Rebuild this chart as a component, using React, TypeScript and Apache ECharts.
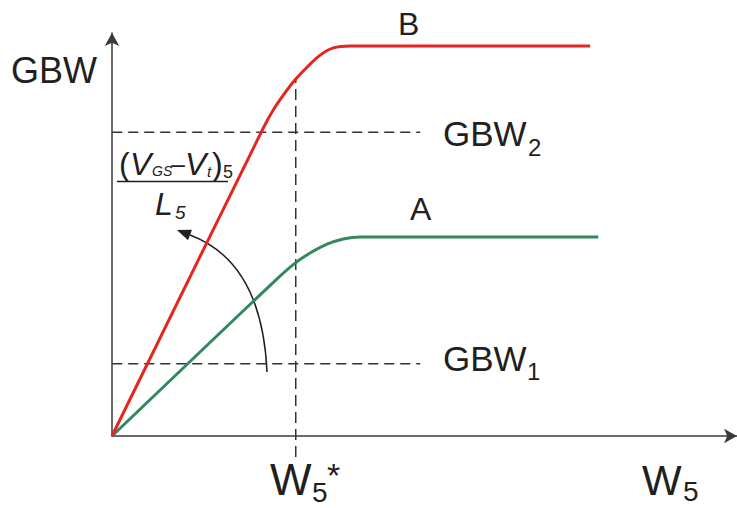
import React, { useEffect, useRef } from "react";
import * as echarts from "echarts";

// Gain-bandwidth versus input-pair width W5 for two overdrive/length ratios
const curveBX = [0, 2.42, 2.58, 2.77, 2.93, 3.12, 3.33, 3.54, 3.81, 4.3, 7.65];
const curveBY = [0, 7.64, 8.09, 8.52, 8.84, 9.15, 9.45, 9.63, 9.68, 9.68, 9.68];
const curveAX = [0, 2.62, 2.93, 3.17, 3.44, 3.7, 3.97, 4.5, 7.78];
const curveAY = [0, 3.87, 4.29, 4.54, 4.76, 4.89, 4.94, 4.94, 4.94];

// GBW target levels (GBW1, GBW2) and the span of their guide lines along W5
const gbwNames = ["GBW1", "GBW2"];
const gbwValues = [1.79, 7.54];
const guideSpanX = [-1.02, 4.93];

// Optimum width W5* and the extent of its guide line
const w5Star = 2.94;
const w5StarSpanY = [-0.52, 8.86];

const axisMax = 10;

const FONT = '"Liberation Sans", Arial, sans-serif';
const INK = "#231f20";
const RED = "#e52520";
const GREEN = "#33885c";
const GUIDE = "#333333";

function txt(
  text: string,
  x: number,
  y: number,
  size: number,
  italic = false
): any {
  return {
    type: "text",
    x,
    y,
    silent: true,
    style: {
      text,
      font: `${italic ? "italic " : ""}${size}px ${FONT}`,
      fill: INK,
      align: "left",
      verticalAlign: "middle",
      textAlign: "left",
      textVerticalAlign: "middle",
    },
  };
}

function zip(xs: number[], ys: number[]) {
  return xs.map((x, i) => [x, ys[i]]);
}

export default function App() {
  const ref = useRef<HTMLDivElement>(null);

  useEffect(() => {
    const chart = echarts.init(ref.current!, undefined, { renderer: "svg" });

    const axisCommon = {
      type: "value",
      min: 0,
      max: axisMax,
      axisLabel: { show: false },
      axisTick: { show: false },
      splitLine: { show: false },
      axisLine: {
        show: true,
        symbol: ["none", "arrow"],
        symbolSize: [11, 13],
        lineStyle: { color: "#3a3a3a", width: 1.5 },
      },
    };

    const guideStyle = (dash: number[]) => ({
      color: GUIDE,
      width: 1.5,
      type: dash,
      cap: "butt",
    });

    const gbwSeries = gbwValues.map((v, i) => ({
      name: gbwNames[i],
      type: "line",
      clip: false,
      silent: true,
      symbol: "none",
      data: [
        [guideSpanX[0], v],
        [guideSpanX[1], v],
      ],
      lineStyle: guideStyle([10, 6]),
      z: 1,
    }));

    // Arrow sweeping from curve A towards curve B
    const arrowStart = [267, 372];
    const arrowCtrl = [262, 262];
    const arrowEnd = [190, 235];
    const dx = arrowEnd[0] - arrowCtrl[0];
    const dy = arrowEnd[1] - arrowCtrl[1];
    const len = Math.hypot(dx, dy);
    const ux = dx / len;
    const uy = dy / len;
    const headLen = 14;
    const headHalf = 5.5;
    const tip = [arrowEnd[0] + ux * headLen, arrowEnd[1] + uy * headLen];
    const wingA = [arrowEnd[0] - uy * headHalf, arrowEnd[1] + ux * headHalf];
    const wingB = [arrowEnd[0] + uy * headHalf, arrowEnd[1] - ux * headHalf];

    const option: any = {
      animation: false,
      backgroundColor: "#ffffff",
      grid: { left: 112, right: 0, top: 33, bottom: 72, containLabel: false },
      xAxis: { ...axisCommon },
      yAxis: { ...axisCommon },
      series: [
        ...gbwSeries,
        {
          name: "W5*",
          type: "line",
          clip: false,
          silent: true,
          symbol: "none",
          data: [
            [w5Star, w5StarSpanY[0]],
            [w5Star, w5StarSpanY[1]],
          ],
          lineStyle: guideStyle([11, 6]),
          z: 1,
        },
        {
          name: "A",
          type: "line",
          symbol: "none",
          smooth: 0.35,
          data: zip(curveAX, curveAY),
          lineStyle: { color: GREEN, width: 3 },
          z: 3,
        },
        {
          name: "B",
          type: "line",
          symbol: "none",
          smooth: 0.35,
          data: zip(curveBX, curveBY),
          lineStyle: { color: RED, width: 3 },
          z: 4,
        },
      ],
      graphic: [
        txt("GBW", 11, 70.5, 36),
        txt("B", 398, 24, 32),
        txt("A", 410, 209, 32),
        txt("GBW", 443, 133.5, 35),
        txt("2", 528, 147, 24),
        txt("GBW", 443, 358.5, 35),
        txt("1", 527, 371, 24),
        txt("W", 270, 479, 44),
        txt("5", 312, 492, 28),
        txt("*", 327, 475, 34),
        txt("W", 642, 480, 42),
        txt("5", 683, 491, 28),
        // (V_GS − V_t)_5 / L_5
        txt("(", 119, 163.5, 32),
        txt("V", 130, 163.5, 32, true),
        txt("GS", 152, 171, 14, true),
        txt("\u2013", 171, 163.5, 25),
        txt("V", 185, 163.5, 32, true),
        txt("t", 207, 171, 15, true),
        txt(")", 212, 163.5, 32),
        txt("5", 223, 172, 18),
        {
          type: "line",
          silent: true,
          shape: { x1: 117, y1: 181.5, x2: 228, y2: 181.5 },
          style: { stroke: INK, lineWidth: 1.5 },
        },
        txt("L", 155, 203.5, 32, true),
        txt("5", 175, 212, 19, true),
        {
          type: "bezierCurve",
          silent: true,
          shape: {
            x1: arrowStart[0],
            y1: arrowStart[1],
            cpx1: arrowCtrl[0],
            cpy1: arrowCtrl[1],
            x2: arrowEnd[0],
            y2: arrowEnd[1],
          },
          style: { stroke: INK, lineWidth: 1.5, fill: null },
        },
        {
          type: "polygon",
          silent: true,
          shape: { points: [tip, wingA, wingB] },
          style: { fill: INK },
        },
      ],
    };

    chart.setOption(option);
    return () => chart.dispose();
  }, []);

  return (
    <div
      ref={ref}
      style={{
        position: "absolute",
        left: 0,
        top: 0,
        width: 737,
        height: 508,
        background: "#ffffff",
      }}
    />
  );
}
